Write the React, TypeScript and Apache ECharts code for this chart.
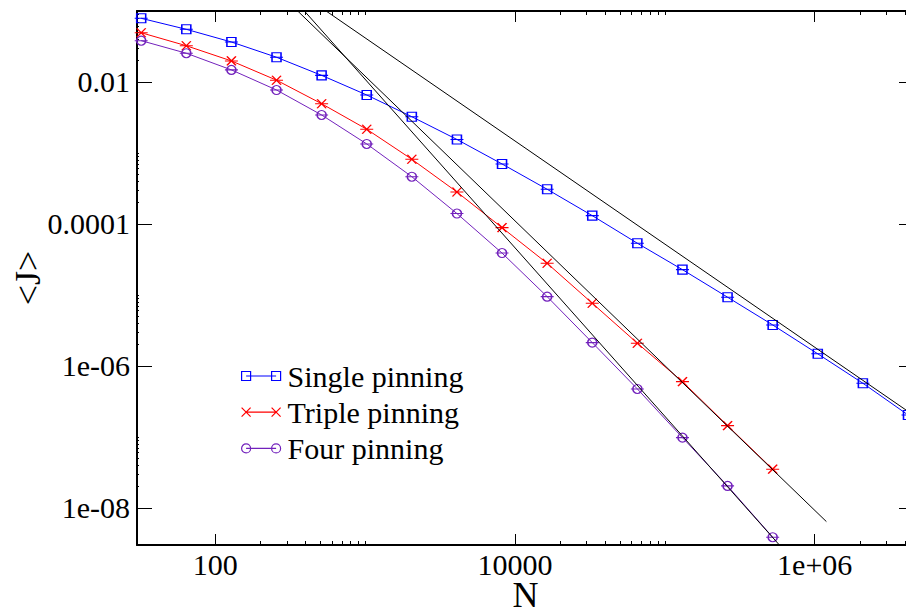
import React, { useEffect, useRef } from "react";
import * as echarts from "echarts";

// System size N (factor 2 steps)
const N = [32, 64, 128, 256, 512, 1024, 2048, 4096, 8192, 16384, 32768, 65536, 131072, 262144, 524288, 1048576, 2097152, 4194304];

// <J> values
const singleJ = [0.0789, 0.0552, 0.0366, 0.0223, 0.0124, 0.00656, 0.00324, 0.00155, 7.0e-4, 3.08e-4, 1.31e-4, 5.35e-5, 2.27e-5, 9.29e-6, 3.78e-6, 1.48e-6, 5.7e-7, 2.04e-7];
const tripleJ = [0.0494, 0.0324, 0.0198, 0.0106, 0.00494, 0.00216, 8.15e-4, 2.82e-4, 8.87e-5, 2.79e-5, 7.64e-6, 2.09e-6, 6.01e-7, 1.44e-7, 3.51e-8];
const fourJ = [0.0382, 0.0254, 0.0148, 0.00771, 0.00343, 0.00134, 4.63e-4, 1.4e-4, 3.89e-5, 9.46e-6, 2.13e-6, 4.74e-7, 9.77e-8, 2.04e-8, 3.86e-9];

// power-law guide lines: [N, J] end points
const fitSingle = [[548.6, 0.1], [4.6e6, 2.0e-7]];
const fitTriple = [[354.5, 0.1], [1.197e6, 6.41e-9]];
const fitFour = [[392.9, 0.1], [6.5e5, 2.3e-9]];

// axes
const X_MIN = 30;
const X_MAX = 4.6e6;
const Y_MIN = 3e-9;
const Y_MAX = 0.1;
const xMajor = [100, 10000, 1000000];
const xMajorLabels = ["100", "10000", "1e+06"];
const xMinor = [200, 300, 400, 500, 600, 700, 800, 900, 1000, 20000, 30000, 40000, 50000, 60000, 70000, 80000, 90000, 100000, 2000000, 3000000, 4000000];
const yMajor = [1e-8, 1e-6, 1e-4, 1e-2];
const yMajorLabels = ["1e-08", "1e-06", "0.0001", "0.01"];
const yMinor = [2e-8, 3e-8, 4e-8, 5e-8, 6e-8, 7e-8, 8e-8, 9e-8, 1e-7, 2e-6, 3e-6, 4e-6, 5e-6, 6e-6, 7e-6, 8e-6, 9e-6, 1e-5, 2e-4, 3e-4, 4e-4, 5e-4, 6e-4, 7e-4, 8e-4, 9e-4, 1e-3, 2e-2, 3e-2, 4e-2, 5e-2, 6e-2, 7e-2, 8e-2, 9e-2];

const seriesNames = ["Single pinning", "Triple pinning", "Four pinning"];
const seriesColors = ["#0000ff", "#ff0000", "#7221bc"];

const FONT = "Liberation Serif, Times New Roman, Times, serif";

const SYM_SQUARE = "path://M2,0H11V9H2Z M0,4.5H13";
const SYM_CROSS = "path://M2,0L11,9 M11,0L2,9 M0,4.5H13";
const SYM_CIRCLE = "path://M11,4.5A4.5,4.5,0,1,1,2,4.5A4.5,4.5,0,1,1,11,4.5Z M0,4.5H13";
const LEG_SQUARE = "path://M0,0H9V9H0Z M4.5,4.5H34.5 M30,0H39V9H30Z";
const LEG_CROSS = "path://M0,0L9,9 M9,0L0,9 M4.5,4.5H34.5 M30,0L39,9 M39,0L30,9";
const LEG_CIRCLE = "path://M9,4.5A4.5,4.5,0,1,1,0,4.5A4.5,4.5,0,1,1,9,4.5Z M4.5,4.5H34.5 M39,4.5A4.5,4.5,0,1,1,30,4.5A4.5,4.5,0,1,1,39,4.5Z";

const symbols = [SYM_SQUARE, SYM_CROSS, SYM_CIRCLE];
const legendIcons = [LEG_SQUARE, LEG_CROSS, LEG_CIRCLE];
const values = [singleJ, tripleJ, fourJ];
const fits = [fitSingle, fitTriple, fitFour];

function labelFmt(ticks: number[], labels: string[]) {
  return (v: number) => {
    const i = ticks.findIndex((t) => Math.abs(Math.log10(t) - Math.log10(v)) < 1e-6);
    return i >= 0 ? labels[i] : "";
  };
}

function makeX(position: string, major: boolean, withLabels: boolean) {
  return {
    type: "log",
    logBase: 10,
    min: X_MIN,
    max: X_MAX,
    position,
    axisLine: { show: major, onZero: false, lineStyle: { color: "#000", width: 2 } },
    axisTick: {
      show: true,
      inside: true,
      length: major ? 11 : 4,
      customValues: major ? xMajor : xMinor,
      lineStyle: { color: "#000", width: 1 },
    },
    axisLabel: withLabels
      ? {
          show: true,
          customValues: xMajor,
          formatter: labelFmt(xMajor, xMajorLabels),
          fontSize: 30,
          lineHeight: 26,
          fontFamily: FONT,
          color: "#000",
          margin: 6.5,
        }
      : { show: false },
    splitLine: { show: false },
    minorTick: { show: false },
    ...(withLabels
      ? {
          name: "N",
          nameLocation: "middle",
          nameGap: 37,
          nameMoveOverlap: false,
          nameTextStyle: { fontSize: 36, lineHeight: 26, fontFamily: FONT, color: "#000" },
        }
      : {}),
  };
}

function makeY(position: string, major: boolean, withLabels: boolean) {
  return {
    type: "log",
    logBase: 10,
    min: Y_MIN,
    max: Y_MAX,
    position,
    axisLine: { show: major, onZero: false, lineStyle: { color: "#000", width: 2 } },
    axisTick: {
      show: true,
      inside: true,
      length: major ? 15 : 2,
      customValues: major ? yMajor : yMinor,
      lineStyle: { color: "#000", width: 1 },
    },
    axisLabel: withLabels
      ? {
          show: true,
          customValues: yMajor,
          formatter: labelFmt(yMajor, yMajorLabels),
          fontSize: 30,
          lineHeight: 26,
          fontFamily: FONT,
          color: "#000",
          margin: 7,
        }
      : { show: false },
    splitLine: { show: false },
    minorTick: { show: false },
    ...(withLabels
      ? {
          name: "<J>",
          nameLocation: "middle",
          nameGap: 91,
          nameMoveOverlap: false,
          nameTextStyle: { fontSize: 36, fontFamily: FONT, color: "#000" },
        }
      : {}),
  };
}

export default function App() {
  const ref = useRef<HTMLDivElement>(null);
  useEffect(() => {
    if (!ref.current) return;
    const chart = echarts.init(ref.current, undefined, { renderer: "svg" });

    const dataSeries = seriesNames.map((name, k) => ({
      name,
      type: "line",
      xAxisIndex: 0,
      yAxisIndex: 0,
      data: values[k].map((j, i) => [N[i], j]),
      symbol: symbols[k],
      symbolSize: [13, 9],
      showSymbol: true,
      itemStyle: { color: "transparent", borderColor: seriesColors[k], borderWidth: 1.3 },
      lineStyle: { color: seriesColors[k], width: 1 },
      emphasis: { disabled: true },
      z: 2,
    }));

    const fitSeries = fits.map((f, k) => ({
      name: "fit" + k,
      type: "line",
      xAxisIndex: 0,
      yAxisIndex: 0,
      data: f,
      symbol: "none",
      lineStyle: { color: "#000", width: 1 },
      silent: true,
      clip: true,
      z: 3,
    }));

    chart.setOption({
      animation: false,
      backgroundColor: "#fff",
      textStyle: { fontFamily: FONT },
      grid: { left: 137, top: 11, right: -8, bottom: 65, containLabel: false, outerBoundsMode: "none" },
      xAxis: [
        makeX("bottom", true, true),
        makeX("bottom", false, false),
        makeX("top", true, false),
        makeX("top", false, false),
      ],
      yAxis: [
        makeY("left", true, true),
        makeY("left", false, false),
        makeY("right", true, false),
        makeY("right", false, false),
      ],
      legend: {
        orient: "vertical",
        left: 236,
        top: 356,
        itemWidth: 39,
        itemHeight: 9,
        itemGap: 6.2,
        selectedMode: false,
        textStyle: { fontSize: 30, fontFamily: FONT, color: "#000", padding: [0, 0, 0, 2] },
        data: seriesNames.map((name, k) => ({
          name,
          icon: legendIcons[k],
          itemStyle: { color: "transparent", borderColor: seriesColors[k], borderWidth: 1.2 },
        })),
      },
      series: [...dataSeries, ...fitSeries],
    });
    return () => chart.dispose();
  }, []);

  return (
    <div
      ref={ref}
      style={{ position: "absolute", left: 0, top: 0, width: 906, height: 610 }}
    />
  );
}
